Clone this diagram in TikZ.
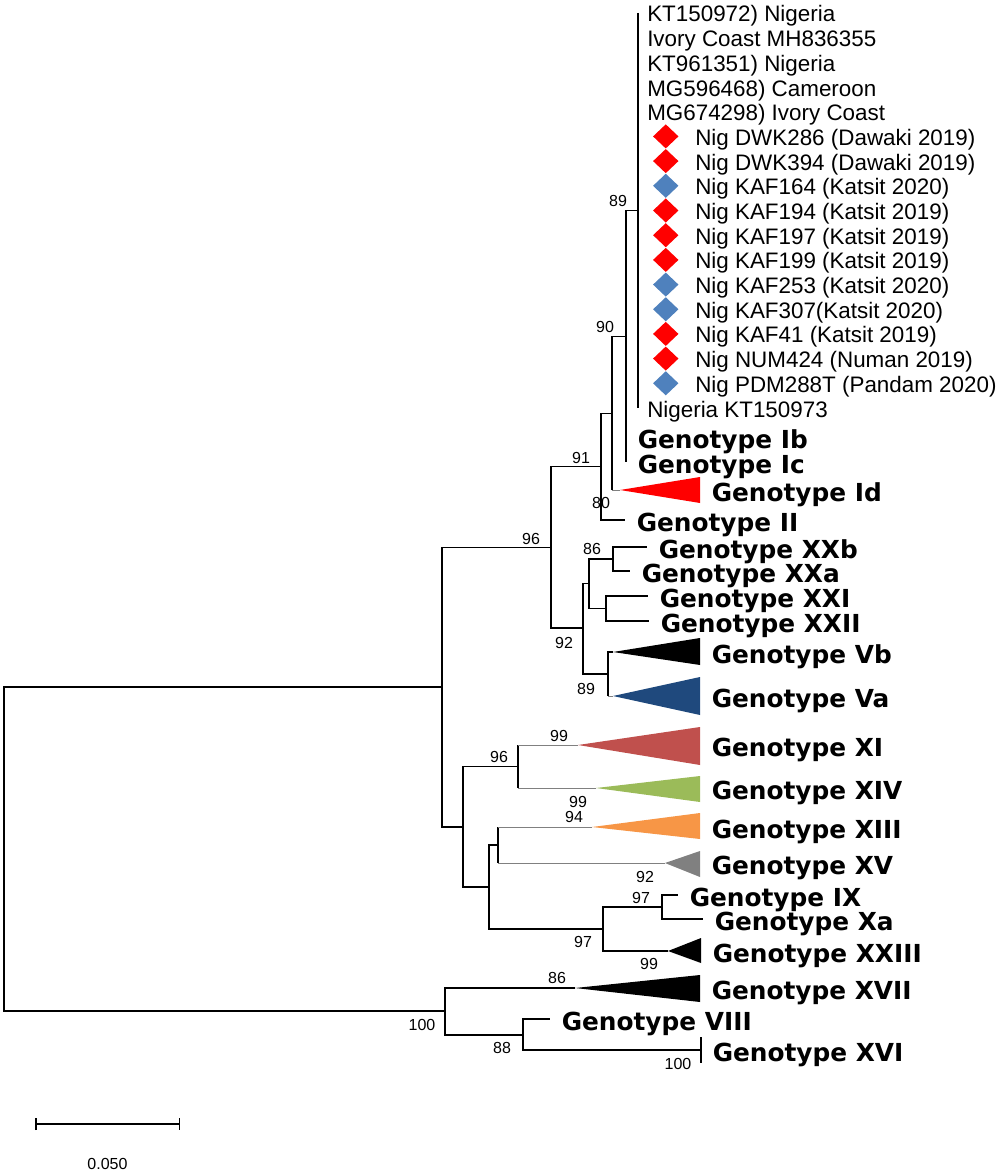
\documentclass[tikz,border=0pt]{standalone}
\usepackage{fontspec}
\setmainfont{Liberation Sans}
\newfontfamily\genofont{DejaVu Sans}
\usepackage[dvipsnames]{xcolor}
\usetikzlibrary{shapes.geometric,positioning,arrows.meta}

\definecolor{xired}{RGB}{192,80,77}
\definecolor{xivgreen}{RGB}{155,187,89}
\definecolor{xiiiorange}{RGB}{247,150,70}
\definecolor{xvgray}{RGB}{128,128,128}
\definecolor{vanavy}{RGB}{31,73,125}
\definecolor{diablue}{RGB}{79,129,189}

\begin{document}
\begin{tikzpicture}[x=1pt,y=-1pt,line width=1.5pt,
    elbow/.style={to path={|- (\tikztotarget)}},
    taxon/.style={inner sep=0pt,yshift=-1pt,font=\fontsize{22.4}{24}\selectfont,text height=16pt,text depth=0pt},
    geno/.style={anchor=west,inner sep=0pt,yshift=-2pt,font=\genofont\bfseries\fontsize{24.8}{26}\selectfont,text height=18pt,text depth=0pt},
    boot/.style={inner sep=0pt,font=\fontsize{16}{18}\selectfont},
    reddia/.style={diamond,fill=red,inner sep=0pt,minimum width=26pt,minimum height=24.7pt},
    bluedia/.style={reddia,fill=diablue}]

    \useasboundingbox (0,0) rectangle (1000,1174);

    % internal nodes
    \coordinate (root) at (4,848.5);
    \coordinate (nIn) at (442,687);
    \coordinate (n100) at (445,1011);
    \coordinate (n96a) at (551,547.5);
    \coordinate (n91) at (601,466.5);
    \coordinate (n80) at (612,413.5);
    \coordinate (n90) at (626,336.5);
    \coordinate (n89) at (638,210.5);
    \coordinate (n92) at (583,628);
    \coordinate (nB) at (589,583.5);
    \coordinate (n86) at (613,559);
    \coordinate (nD) at (606,608.5);
    \coordinate (n89b) at (608,674);
    \coordinate (nLow) at (463,827);
    \coordinate (n96b) at (518,766.5);
    \coordinate (nE) at (489,887);
    \coordinate (n94) at (498,845);
    \coordinate (n97b) at (603,929);
    \coordinate (n97a) at (662,907);
    \coordinate (n88) at (523,1035);
    \coordinate (n100c) at (701,1050);

    % tips
    \coordinate (t0) at (638,13);
    \coordinate (t1) at (638,37.7);
    \coordinate (t2) at (638,62.4);
    \coordinate (t3) at (638,87.1);
    \coordinate (t4) at (638,111.8);
    \coordinate (t5) at (638,136.4);
    \coordinate (t6) at (638,161.1);
    \coordinate (t7) at (638,185.8);
    \coordinate (t8) at (638,210.5);
    \coordinate (t9) at (638,235.2);
    \coordinate (t10) at (638,259.9);
    \coordinate (t11) at (638,284.6);
    \coordinate (t12) at (638,309.3);
    \coordinate (t13) at (638,333.9);
    \coordinate (t14) at (638,358.6);
    \coordinate (t15) at (638,383.3);
    \coordinate (t16) at (638,408);
    \coordinate (tIb) at (626,437);
    \coordinate (tIc) at (626,462);
    \coordinate (tId) at (620,490);
    \coordinate (tII) at (625,520);
    \coordinate (tXXb) at (647,547);
    \coordinate (tXXa) at (630,571);
    \coordinate (tXXI) at (648,596);
    \coordinate (tXXII) at (649,621);
    \coordinate (tVb) at (613,652);
    \coordinate (tVa) at (613,696);
    \coordinate (tXI) at (578,745);
    \coordinate (tXIV) at (596,788);
    \coordinate (tXIII) at (592,827);
    \coordinate (tXV) at (665,863);
    \coordinate (tIX) at (678,895);
    \coordinate (tXa) at (703,919);
    \coordinate (tXXIII) at (668,951);
    \coordinate (tXVII) at (575,988);
    \coordinate (tVIII) at (550,1019);
    \coordinate (tXVIa) at (701,1037);
    \coordinate (tXVIb) at (701,1063);

    % black branches
    \path
        (root) edge[elbow] (nIn)
        (root) edge[elbow] (n100)
        (nIn) edge[elbow] (n96a)
        (nIn) edge[elbow] (nLow)
        (n96a) edge[elbow] (n91)
        (n96a) edge[elbow] (n92)
        (n91) edge[elbow] (n80)
        (n91) edge[elbow] (tII)
        (n80) edge[elbow] (n90)
        (n80) edge (n80 |- tId)
        (n90) edge[elbow] (n89)
        (n90) edge[elbow] (tIc)
        (t0) edge (t16)
        (n92) edge[elbow] (nB)
        (n92) edge[elbow] (n89b)
        (nB) edge[elbow] (n86)
        (nB) edge[elbow] (nD)
        (n86) edge[elbow] (tXXb)
        (n86) edge[elbow] (tXXa)
        (nD) edge[elbow] (tXXI)
        (nD) edge[elbow] (tXXII)
        (n89b) edge[elbow] (tVb)
        (n89b) edge (n89b |- tVa)
        (nLow) edge[elbow] (n96b)
        (nLow) edge[elbow] (nE)
        (n96b |- tXI) edge (n96b |- tXIV)
        (nE) edge[elbow] (n94)
        (nE) edge[elbow] (n97b)
        (n94 |- tXIII) edge (n94 |- tXV)
        (n97b) edge[elbow] (n97a)
        (n97b) edge[elbow] (tXXIII)
        (n97a) edge[elbow] (tIX)
        (n97a) edge[elbow] (tXa)
        (n100) edge[elbow] (tXVII)
        (n100) edge[elbow] (n88)
        (n88) edge[elbow] (tVIII)
        (n88) edge[elbow] (n100c)
        (tXVIa) edge (tXVIb);

    % coloured branches
    \path[line width=1pt]
        [color=red] (n80 |- tId) edge (tId)
        [color=vanavy] (n89b |- tVa) edge (tVa)
        [color=xired] (n96b |- tXI) edge (tXI)
        [color=xivgreen] (n96b |- tXIV) edge (tXIV)
        [color=xiiiorange] (n94 |- tXIII) edge (tXIII)
        [color=xvgray] (n94 |- tXV) edge (tXV);

    % collapsed clades
    \fill[red] (tId) -- (700,477) -- (700,503) -- cycle;
    \fill[black] (tVb) -- (700,638) -- (700,665) -- cycle;
    \fill[vanavy] (tVa) -- (700,677) -- (700,715) -- cycle;
    \fill[xired] (tXI) -- (700,727) -- (700,765) -- cycle;
    \fill[xivgreen] (tXIV) -- (700,776) -- (700,802) -- cycle;
    \fill[xiiiorange] (tXIII) -- (700,813) -- (700,839) -- cycle;
    \fill[xvgray] (tXV) -- (700,851) -- (700,877) -- cycle;
    \fill[black] (tXXIII) -- (701,938) -- (701,963) -- cycle;
    \fill[black] (tXVII) -- (700,975) -- (700,1002) -- cycle;

    % taxa of the 89 group
    \node[taxon] (s0) [right=8.5pt of t0] {KT150972) Nigeria};
    \node[taxon] (s1) [right=8.5pt of t1] {Ivory Coast MH836355};
    \node[taxon] (s2) [right=8.5pt of t2] {KT961351) Nigeria};
    \node[taxon] (s3) [right=8.5pt of t3] {MG596468) Cameroon};
    \node[taxon] (s4) [right=8.5pt of t4] {MG674298) Ivory Coast};
    \node[reddia] (d5) [right=14pt of t5] {};
    \node[reddia] (d6) [right=14pt of t6] {};
    \node[bluedia] (d7) [right=14pt of t7] {};
    \node[reddia] (d8) [right=14pt of t8] {};
    \node[reddia] (d9) [right=14pt of t9] {};
    \node[reddia] (d10) [right=14pt of t10] {};
    \node[bluedia] (d11) [right=14pt of t11] {};
    \node[bluedia] (d12) [right=14pt of t12] {};
    \node[reddia] (d13) [right=14pt of t13] {};
    \node[reddia] (d14) [right=14pt of t14] {};
    \node[bluedia] (d15) [right=14pt of t15] {};
    \node[taxon] (s5) [right=15pt of d5] {Nig DWK286 (Dawaki 2019)};
    \node[taxon] (s6) [right=15pt of d6] {Nig DWK394 (Dawaki 2019)};
    \node[taxon] (s7) [right=15pt of d7] {Nig KAF164 (Katsit 2020)};
    \node[taxon] (s8) [right=15pt of d8] {Nig KAF194 (Katsit 2019)};
    \node[taxon] (s9) [right=15pt of d9] {Nig KAF197 (Katsit 2019)};
    \node[taxon] (s10) [right=15pt of d10] {Nig KAF199 (Katsit 2019)};
    \node[taxon] (s11) [right=15pt of d11] {Nig KAF253 (Katsit 2020)};
    \node[taxon] (s12) [right=15pt of d12] {Nig KAF307(Katsit 2020)};
    \node[taxon] (s13) [right=15pt of d13] {Nig KAF41 (Katsit 2019)};
    \node[taxon] (s14) [right=15pt of d14] {Nig NUM424 (Numan 2019)};
    \node[taxon] (s15) [right=15pt of d15] {Nig PDM288T (Pandam 2020)};
    \node[taxon] (s16) [right=8.5pt of t16] {Nigeria KT150973};

    % genotype labels
    \node[geno] (gIb) [right=11pt of tIb] {Genotype Ib};
    \node[geno] (gIc) [right=11pt of tIc] {Genotype Ic};
    \node[geno] (gId) at (711,490) {Genotype Id};
    \node[geno] (gII) [right=11pt of tII] {Genotype II};
    \node[geno] (gXXb) [right=11pt of tXXb] {Genotype XXb};
    \node[geno] (gXXa) [right=11pt of tXXa] {Genotype XXa};
    \node[geno] (gXXI) [right=11pt of tXXI] {Genotype XXI};
    \node[geno] (gXXII) [right=11pt of tXXII] {Genotype XXII};
    \node[geno] (gVb) at (711,652) {Genotype Vb};
    \node[geno] (gVa) at (711,696) {Genotype Va};
    \node[geno] (gXI) at (711,745) {Genotype XI};
    \node[geno] (gXIV) at (711,788) {Genotype XIV};
    \node[geno] (gXIII) at (711,827) {Genotype XIII};
    \node[geno] (gXV) at (711,863) {Genotype XV};
    \node[geno] (gIX) [right=11pt of tIX] {Genotype IX};
    \node[geno] (gXa) [right=11pt of tXa] {Genotype Xa};
    \node[geno] (gXXIII) at (712,951) {Genotype XXIII};
    \node[geno] (gXVII) at (711,988) {Genotype XVII};
    \node[geno] (gVIII) [right=11pt of tVIII] {Genotype VIII};
    \node[geno] (gXVI) [right=11pt of n100c] {Genotype XVI};

    % bootstrap values
    \node[boot] (b89a) at (618,201) {89};
    \node[boot] (b90) at (605,327) {90};
    \node[boot] (b91) at (581,458) {91};
    \node[boot] (b80) at (601,503) {80};
    \node[boot] (b96a) at (531,539) {96};
    \node[boot] (b86a) at (592,549) {86};
    \node[boot] (b92a) at (564,643) {92};
    \node[boot] (b89b) at (586,689) {89};
    \node[boot] (b99a) at (559,736) {99};
    \node[boot] (b96b) at (499,757) {96};
    \node[boot] (b99b) at (578,802) {99};
    \node[boot] (b94) at (574,817) {94};
    \node[boot] (b92b) at (645,877) {92};
    \node[boot] (b97a) at (641,898) {97};
    \node[boot] (b97b) at (583,942) {97};
    \node[boot] (b99c) at (649,964) {99};
    \node[boot] (b86b) at (557,978) {86};
    \node[boot] (b100a) at (422,1025) {100};
    \node[boot] (b88) at (502,1048) {88};
    \node[boot] (b100b) at (678,1064) {100};

    % scale bar
    \coordinate (sbL) at (35,1124);
    \coordinate (sbR) at (180,1124);
    \draw[{Bar[width=12pt]}-{Bar[width=12pt]}] (sbL) -- (sbR);
    \node[boot] (sbText) at (107.5,1164) {0.050};

\end{tikzpicture}
\end{document}
